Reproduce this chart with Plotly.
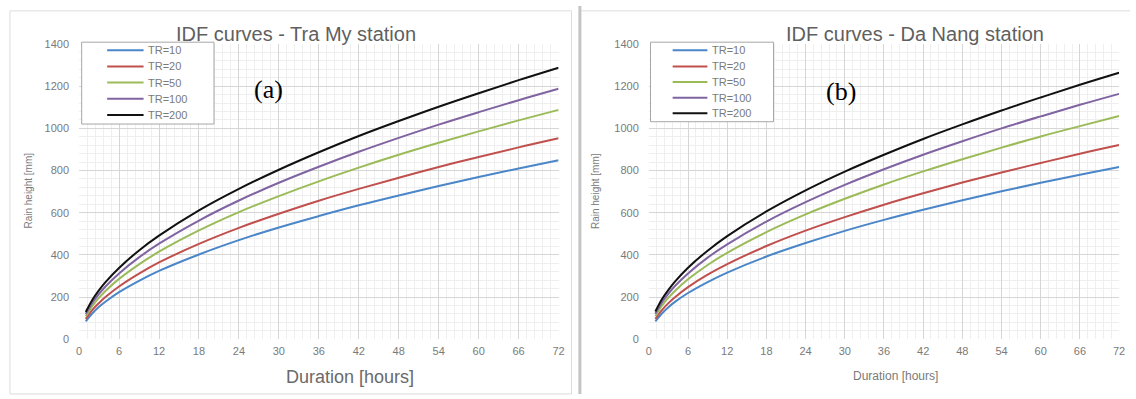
import plotly.graph_objects as go

W, H = 1136, 399

durations = [1, 2, 3, 4, 6, 9, 12, 18, 24, 30, 36, 42, 48, 54, 60, 66, 72]
series_names = ["TR=10", "TR=20", "TR=50", "TR=100", "TR=200"]

tramy_tr10 = [85, 123, 154, 179, 223, 277, 324, 402, 470, 530, 584, 635, 682, 727, 769, 810, 849]
tramy_tr20 = [96, 139, 172, 201, 250, 311, 364, 452, 528, 595, 657, 713, 766, 817, 864, 910, 953]
tramy_tr50 = [109, 158, 197, 230, 286, 355, 415, 516, 603, 679, 749, 814, 875, 932, 986, 1038, 1088]
tramy_tr100 = [119, 173, 215, 251, 312, 388, 453, 563, 658, 742, 818, 889, 955, 1018, 1077, 1134, 1188]
tramy_tr200 = [129, 187, 233, 272, 338, 421, 491, 611, 713, 804, 887, 964, 1035, 1103, 1167, 1229, 1288]

danang_tr10 = [85, 122, 152, 177, 219, 271, 316, 392, 456, 514, 566, 614, 659, 702, 742, 780, 817]
danang_tr20 = [96, 138, 171, 199, 247, 306, 356, 442, 515, 579, 638, 692, 743, 791, 836, 880, 921]
danang_tr50 = [110, 159, 197, 229, 284, 352, 410, 508, 592, 666, 734, 796, 854, 909, 962, 1011, 1059]
danang_tr100 = [121, 174, 216, 252, 312, 387, 450, 558, 650, 732, 806, 875, 939, 1000, 1057, 1112, 1164]
danang_tr200 = [131, 189, 234, 273, 339, 420, 489, 606, 706, 795, 875, 950, 1019, 1085, 1147, 1207, 1264]

y_ticks = [0, 200, 400, 600, 800, 1000, 1200, 1400]
x_ticks = [0, 6, 12, 18, 24, 30, 36, 42, 48, 54, 60, 66, 72]

colors = ["#4A86C8", "#C0504D", "#9BBB59", "#8064A2", "#111111"]

tramy = [tramy_tr10, tramy_tr20, tramy_tr50, tramy_tr100, tramy_tr200]
danang = [danang_tr10, danang_tr20, danang_tr50, danang_tr100, danang_tr200]


def px(x):
    return x / W


def py(y):
    return 1 - y / H


fig = go.Figure()
for name, vals, c in zip(series_names, tramy, colors):
    fig.add_trace(go.Scatter(x=durations, y=vals, name=name, mode="lines",
                             line=dict(color=c, width=2, shape="spline"),
                             xaxis="x", yaxis="y", showlegend=False))
for name, vals, c in zip(series_names, danang, colors):
    fig.add_trace(go.Scatter(x=durations, y=vals, name=name, mode="lines",
                             line=dict(color=c, width=2, shape="spline"),
                             xaxis="x2", yaxis="y2", showlegend=False))

SANS = "Liberation Sans, Arial, sans-serif"
tickfont = dict(family=SANS, size=11, color="#7a7a7a")
grid_major = "#d6d6d6"
grid_minor = "#efefef"

xcommon = dict(range=[0, 72], tickvals=x_ticks, showgrid=True, gridcolor=grid_major,
               gridwidth=1, zeroline=False, showline=False, tickfont=tickfont,
               minor=dict(dtick=1.2, showgrid=True, gridcolor=grid_minor, gridwidth=1),
               ticklabelstandoff=4, fixedrange=True)
ycommon = dict(range=[0, 1400], tickvals=y_ticks, showgrid=True, gridcolor=grid_major,
               gridwidth=1, zeroline=False, showline=False, tickfont=tickfont,
               minor=dict(dtick=40, showgrid=True, gridcolor=grid_minor, gridwidth=1),
               ticklabelstandoff=9, fixedrange=True)

ydom = [py(343.5), py(39.3)]

fig.update_layout(
    width=W, height=H,
    margin=dict(l=0, r=0, t=0, b=0),
    paper_bgcolor="white", plot_bgcolor="white",
    xaxis=dict(domain=[px(76.7), px(560)], anchor="y", **xcommon),
    yaxis=dict(domain=ydom, anchor="x", **ycommon),
    xaxis2=dict(domain=[px(651), px(1125)], anchor="y2", **xcommon),
    yaxis2=dict(domain=ydom, anchor="x2", **ycommon),
    showlegend=False,
)

title_font = dict(family=SANS, size=20, color="#5f5f5f")
annots = [
    dict(text="IDF curves - Tra My station", x=px(295), y=py(29), font=title_font),
    dict(text="IDF curves - Da Nang station", x=px(919), y=py(29), font=title_font),
    dict(text="(a)", x=px(268), y=py(86),
         font=dict(family="Liberation Serif, Times New Roman, serif", size=26, color="black")),
    dict(text="(b)", x=px(845), y=py(88),
         font=dict(family="Liberation Serif, Times New Roman, serif", size=26, color="black")),
    dict(text="Rain height [mm]", x=px(26), y=py(190.5), textangle=-90,
         font=dict(family=SANS, size=10, color="#7a7a7a")),
    dict(text="Rain height [mm]", x=px(598), y=py(190.5), textangle=-90,
         font=dict(family=SANS, size=10, color="#7a7a7a")),
    dict(text="Duration [hours]", x=px(350), y=py(383),
         font=dict(family=SANS, size=18, color="#6a6a6a")),
    dict(text="Duration [hours]", x=px(900), y=py(381),
         font=dict(family=SANS, size=12, color="#7a7a7a")),
]
for a in annots:
    fig.add_annotation(xref="paper", yref="paper", showarrow=False,
                       xanchor="center", yanchor="middle", **a)

# legends (drawn as boxes with key lines and labels)
legend_specs = [
    # box x0, x1, y0, y1, key x0, key x1, text x, item rows
    (79.3, 212.7, 37.3, 121.7, 105, 141.7, 144.3, [45.7, 62.3, 79.0, 95.7, 112.3]),
    (652.7, 776.7, 37.3, 119.3, 675, 710, 712.7, [45.7, 62.3, 78.3, 94.5, 110.7]),
]
for bx0, bx1, by0, by1, kx0, kx1, tx, rows in legend_specs:
    fig.add_shape(type="rect", xref="paper", yref="paper",
                  x0=px(bx0), x1=px(bx1), y0=py(by1), y1=py(by0),
                  line=dict(color="#a6a6a6", width=1), fillcolor="white", layer="above")
    for name, c, ry in zip(series_names, colors, rows):
        fig.add_shape(type="line", xref="paper", yref="paper",
                      x0=px(kx0), x1=px(kx1), y0=py(ry), y1=py(ry),
                      line=dict(color=c, width=2), layer="above")
        fig.add_annotation(xref="paper", yref="paper", showarrow=False,
                           x=px(tx), y=py(ry), xanchor="left", yanchor="middle",
                           text=name, font=dict(family=SANS, size=11, color="#7a7a7a"))

# panel frames
fig.add_shape(type="rect", xref="paper", yref="paper",
              x0=px(7), x1=px(573), y0=py(400), y1=py(5),
              line=dict(color="#dcdcdc", width=1), layer="below")
fig.add_shape(type="line", xref="paper", yref="paper",
              x0=px(581.5), x1=px(581.5), y0=py(400), y1=py(0),
              line=dict(color="#c4c4c4", width=3))
fig.add_shape(type="line", xref="paper", yref="paper",
              x0=px(583), x1=px(1136), y0=py(5), y1=py(5),
              line=dict(color="#dcdcdc", width=1))

fig.write_html("out.html",
               config={"displayModeBar": False},
               post_script="document.body.style.margin='0';document.body.style.overflow='hidden';")
